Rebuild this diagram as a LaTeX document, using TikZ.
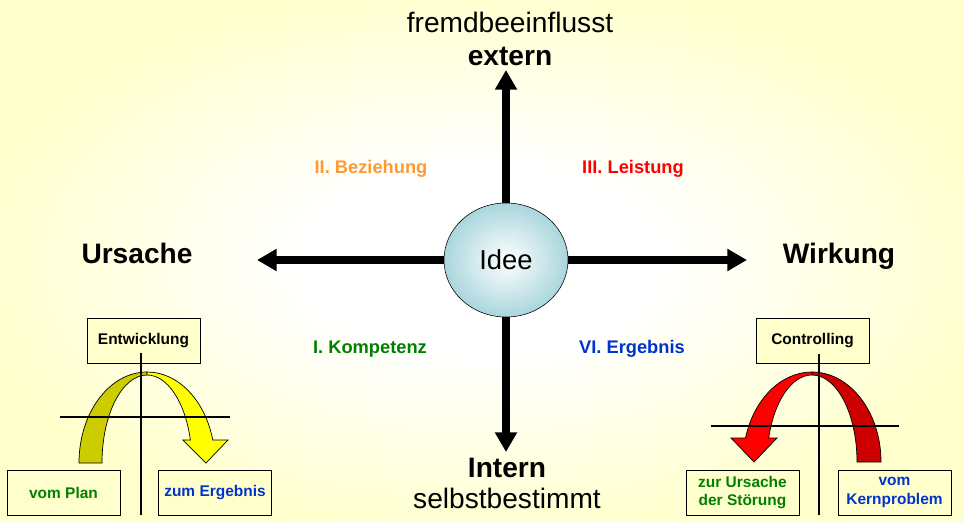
\documentclass[tikz,border=0pt]{standalone}
\usepackage{fontspec}
\setmainfont{Liberation Sans}
\usetikzlibrary{arrows.meta,shapes.geometric}
\definecolor{bgyellow}{HTML}{FFFFCC}
\definecolor{ideeblue}{HTML}{A9D6DD}
\definecolor{archolive}{HTML}{CCCC00}
\definecolor{archyellow}{HTML}{FFFF00}
\definecolor{archdark}{HTML}{CC0000}
\definecolor{archred}{HTML}{FF0000}
\definecolor{txtorange}{HTML}{FF9933}
\definecolor{txtred}{HTML}{FF0000}
\definecolor{txtgreen}{HTML}{008000}
\definecolor{txtblue}{HTML}{0033CC}
\pgfdeclareradialshading{bgglow}{\pgfpoint{0bp}{0bp}}{color(0bp)=(white);
  color(9bp)=(white); color(27bp)=(bgyellow); color(50bp)=(bgyellow)}
\tikzset{
  axis/.style={line width=5pt,-{Triangle[length=14pt,width=15pt]}},
  box/.style={draw,fill=bgyellow,minimum width=2.83cm,minimum height=1.13cm,
    align=center,font=\fontsize{11}{13}\selectfont\bfseries},
  hair/.style={line width=1pt},
  arch/.style={draw=black,line width=0.5pt},
  quad/.style={anchor=base,font=\fontsize{13}{15}\selectfont\bfseries},
  big/.style={anchor=base,font=\fontsize{20}{24}\selectfont},
  bigb/.style={anchor=base,font=\fontsize{20}{24}\selectfont\bfseries}
}
\begin{document}
\begin{tikzpicture}[x=0.025cm,y=-0.025cm]
  \shade[shading=bgglow] (0,0) rectangle (964,521);
  \useasboundingbox (0,0) rectangle (964,521);

  \node[ellipse,draw,shade,inner color=white,outer color=ideeblue,
    minimum width=3.1cm,minimum height=2.85cm,
    font=\fontsize{19.5}{22}\selectfont] (idee) at (506,260) {Idee};

  \coordinate (ext) at (506,70);
  \coordinate (int) at (506,452);
  \coordinate (urs) at (257,260);
  \coordinate (wirk) at (747,260);
  \draw[axis] (idee.north) -- (ext);
  \draw[axis] (idee.south) -- (int);
  \draw[axis] (idee.west) -- (urs);
  \draw[axis] (idee.east) -- (wirk);

  \node[big] (fremd) at (510,32) {fremdbeeinflusst};
  \node[bigb] (extern) at (510,65) {extern};
  \node[bigb] (intern) at (507,477) {Intern};
  \node[big] (selbst) at (507,508) {selbstbestimmt};
  \node[bigb] (ursache) at (137,263) {Ursache};
  \node[bigb] (wirkung) at (839,263) {Wirkung};

  \node[quad,txtorange] (bez) at (371,173) {II. Beziehung};
  \node[quad,txtred] (leist) at (633,173) {III. Leistung};
  \node[quad,txtgreen] (komp) at (370,353) {I. Kompetenz};
  \node[quad,txtblue] (ergeb) at (632,353) {VI. Ergebnis};

  % left: Entwicklung
  \node[box] (entw) at (143.5,340.5) {Entwicklung};
  \node[box,text=txtgreen] (plan) at (63.5,492.5) {vom Plan};
  \node[box,text=txtblue] (zumerg) at (215,492.5) {zum Ergebnis};
  \filldraw[arch,fill=archolive] (79,463)
    arc[start angle=180,end angle=270,x radius=68,y radius=91] -- (147,375)
    arc[start angle=270,end angle=180,x radius=45,y radius=88] -- cycle;
  \filldraw[arch,fill=archyellow] (147,372)
    arc[start angle=270,end angle=345.4,x radius=68,y radius=91]
    -- (228,440) -- (206,463) -- (183,440) -- (190.4,440)
    arc[start angle=344.85,end angle=270,x radius=45,y radius=88] -- cycle;
  \draw[hair] (141,353) -- (141,515);
  \draw[hair] (60,417) -- (230,417);

  % right: Controlling
  \node[box] (contr) at (812.5,340.5) {Controlling};
  \node[box,text=txtgreen] (stoer) at (742.5,492.5) {zur Ursache\\der Störung};
  \node[box,text=txtblue] (kern) at (894.5,492.5) {vom\\Kernproblem};
  \filldraw[arch,fill=archdark] (881,462)
    arc[start angle=0,end angle=-90,x radius=69,y radius=90] -- (812,375)
    arc[start angle=-90,end angle=0,x radius=45,y radius=87] -- cycle;
  \filldraw[arch,fill=archred] (812,372)
    arc[start angle=270,end angle=195.47,x radius=69,y radius=90]
    -- (731,438) -- (754,462) -- (777,438) -- (768.7,438)
    arc[start angle=196,end angle=270,x radius=45,y radius=87] -- cycle;
  \draw[hair] (819,354) -- (819,515);
  \draw[hair] (711,426) -- (899,426);
\end{tikzpicture}
\end{document}
